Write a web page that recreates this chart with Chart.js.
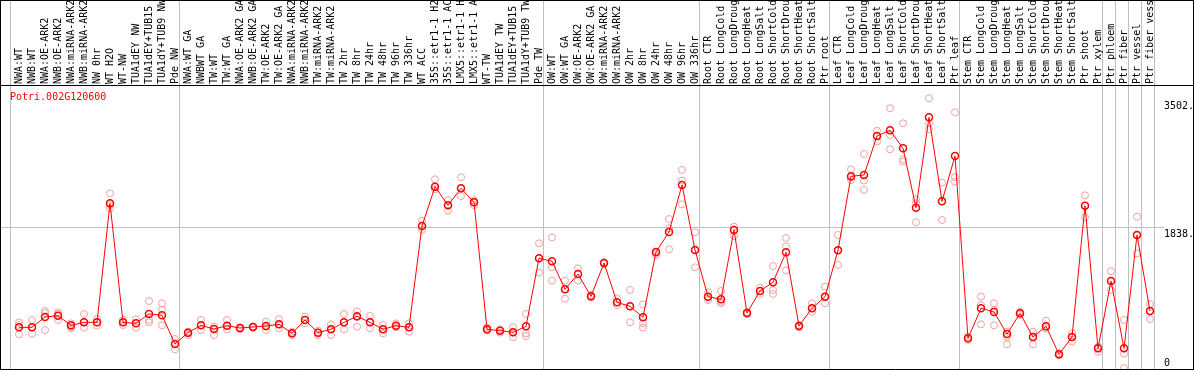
<!DOCTYPE html>
<html>
<head>
<meta charset="utf-8">
<script src="https://cdn.jsdelivr.net/npm/chart.js@4/dist/chart.umd.min.js"></script>
<style>
    html, body { margin: 0; padding: 0; background: #fff; }
    #wrap { width: 1194px; height: 370px; }
</style>
</head>
<body>
<div id="wrap"><canvas id="chart" width="1194" height="370"></canvas></div>
<script>
const geneName = 'Potri.002G120600';

const samples = [
    'NWA:WT', 'NWB:WT', 'NWA:OE-ARK2', 'NWB:OE-ARK2', 'NWA:miRNA-ARK2', 'NWB:miRNA-ARK2',
    'NW 0hr', 'WT H2O', 'WT-NW', 'TUA1dEY NW', 'TUA1dEY+TUB15', 'TUA1dY+TUB9 NW', 'Pde NW',
    'NWA:WT GA', 'NWBWT GA', 'TW:WT', 'TW:WT GA', 'NWA:OE-ARK2 GA', 'NWB:OE-ARK2 GA',
    'TW:OE-ARK2', 'TW:OE-ARK2 GA', 'NWA:miRNA-ARK2', 'NWB:miRNA-ARK2', 'TW:miRNA-ARK2',
    'TW:miRNA-ARK2', 'TW 2hr', 'TW 8hr', 'TW 24hr', 'TW 48hr', 'TW 96hr', 'TW 336hr',
    'WT ACC', '35S::etr1-1 H2O', '35S::etr1-1 ACC', 'LMX5::etr1-1 H2O', 'LMX5::etr1-1 ACC',
    'WT-TW', 'TUA1dEY TW', 'TUA1dEY+TUB15', 'TUA1dY+TUB9 TW', 'Pde TW',
    'OW:WT', 'OW:WT GA', 'OW:OE-ARK2', 'OW:OE-ARK2 GA', 'OW:miRNA-ARK2', 'OW:miRNA-ARK2',
    'OW 2hr', 'OW 8hr', 'OW 24hr', 'OW 48hr', 'OW 96hr', 'OW 336hr',
    'Root CTR', 'Root LongCold', 'Root LongDrought', 'Root LongHeat', 'Root LongSalt',
    'Root ShortCold', 'Root ShortDrought', 'Root ShortHeat', 'Root ShortSalt', 'Ptr root',
    'Leaf CTR', 'Leaf LongCold', 'Leaf LongDrought', 'Leaf LongHeat', 'Leaf LongSalt',
    'Leaf ShortCold', 'Leaf ShortDrought', 'Leaf ShortHeat', 'Leaf ShortSalt', 'Ptr leaf',
    'Stem CTR', 'Stem LongCold', 'Stem LongDrought', 'Stem LongHeat', 'Stem LongSalt',
    'Stem ShortCold', 'Stem ShortDrought', 'Stem ShortHeat', 'Stem ShortSalt',
    'Ptr shoot', 'Ptr xylem', 'Ptr phloem', 'Ptr fiber', 'Ptr vessel', 'Ptr fiber vessel'
];

const meanValues = [
    543, 543, 678, 695, 569, 608, 608, 2160, 608, 595,
    717, 700, 326, 474, 569, 521, 565, 534, 548, 561,
    582, 465, 639, 474, 517, 608, 687, 608, 517, 565,
    543, 1864, 2377, 2134, 2355, 2173, 517, 500, 478, 556,
    1443, 1404, 1039, 1238, 947, 1382, 869, 817, 674, 1525,
    1786, 2399, 1551, 943, 908, 1812, 730, 1017, 1130, 1521,
    561, 791, 943, 1547, 2512, 2529, 3037, 3111, 2877, 2103,
    3281, 2186, 2777, 400, 791, 743, 456, 726, 417, 556,
    191, 417, 2129, 269, 1147, 269, 1747, 756
];

const rep1 = [
    608, 639, 756, 738, 595, 717, 652, 2290, 639, 647,
    886, 856, 391, 487, 639, 552, 639, 543, 552, 617,
    647, 487, 682, 500, 582, 717, 752, 691, 573, 595,
    595, 1929, 2473, 2199, 2499, 2199, 543, 517, 543, 717,
    1638, 1716, 1152, 1312, 965, 1391, 921, 1030, 843, 1525,
    1955, 2595, 1781, 999, 1017, 1855, 743, 1060, 1343, 1708,
    573, 856, 1073, 1747, 2603, 2803, 3107, 3398, 3203, 2212,
    3529, 2429, 3346, 421, 943, 856, 487, 747, 487, 630,
    204, 465, 2264, 291, 1273, 639, 1986, 847
];

const rep2 = [
    573, 543, 730, 717, 552, 608, 608, 2137, 608, 595,
    639, 769, 326, 465, 569, 521, 565, 534, 548, 552,
    582, 465, 639, 474, 517, 608, 678, 608, 517, 565,
    543, 1864, 2377, 2134, 2355, 2173, 517, 500, 478, 465,
    1443, 1325, 1039, 1238, 947, 1382, 869, 817, 595, 1508,
    1834, 2456, 1551, 943, 878, 1812, 730, 1017, 1030, 1595,
    561, 791, 943, 1547, 2499, 2456, 3037, 3050, 2733, 2160,
    3203, 2186, 2499, 400, 834, 769, 421, 726, 417, 556,
    191, 417, 2129, 269, 1147, 200, 1747, 756
];

const rep3 = [
    452, 460, 508, 639, 530, 539, 565, 2094, 573, 539,
    608, 569, 256, 443, 508, 443, 517, 517, 539, 508,
    530, 443, 595, 443, 443, 517, 552, 530, 465, 543,
    487, 1812, 2342, 2064, 2255, 2137, 500, 474, 413, 430,
    1256, 1152, 917, 1152, 934, 1369, 834, 608, 539, 1482,
    1560, 2147, 1325, 899, 856, 1734, 717, 978, 978, 1286,
    543, 747, 856, 1356, 2464, 2334, 2964, 2864, 2703, 1912,
    3124, 1942, 2443, 378, 582, 569, 322, 704, 322, 530,
    178, 356, 1977, 226, 1030, 13, 1508, 652
];

// group separators come right after these sample indices
const groupEnds = [-1, 12, 40, 52, 62, 72, 83, 84, 85, 86, 87];
const yTickValues = [0, 1838, 3502];

const SEP_SHIFT = 0.38;
const X_STEP = 13;
const LABEL_SHIFT = 12 / X_STEP;   // rotated top labels are drawn one line height left of their tick
const PLOT_RIGHT = 1164;
const xMin = -19 / X_STEP;
const xMax = xMin + PLOT_RIGHT / X_STEP;
const monoFont = { family: 'DejaVu Sans Mono', size: 10 };

const meanPoints = meanValues.map((v, i) => ({ x: i, y: v }));
const repPoints = [];
[rep1, rep2, rep3].forEach(rep => {
    rep.forEach((v, i) => repPoints.push({ x: i, y: v }));
});

const isSeparator = (v) => groupEnds.some(g => Math.abs(g + SEP_SHIFT - v) < 1e-6);

const framePlugin = {
    id: 'frame',
    afterDraw(chart) {
        const ctx = chart.ctx;
        const w = chart.width;
        ctx.save();
        ctx.strokeStyle = '#000';
        ctx.lineWidth = 1;
        ctx.beginPath();
        ctx.moveTo(0, 0.5); ctx.lineTo(w, 0.5);
        ctx.moveTo(0, 85.5); ctx.lineTo(w, 85.5);
        ctx.moveTo(0, 369.5); ctx.lineTo(w, 369.5);
        ctx.moveTo(0.5, 0); ctx.lineTo(0.5, 370);
        ctx.moveTo(w - 0.5, 0); ctx.lineTo(w - 0.5, 370);
        ctx.stroke();

        ctx.fillStyle = '#ff0000';
        ctx.font = '10px "DejaVu Sans Mono"';
        ctx.textBaseline = 'middle';
        ctx.fillText(geneName, 10, 97);
        ctx.restore();
    }
};

new Chart(document.getElementById('chart'), {
    type: 'line',
    data: {
        datasets: [
            {
                label: 'mean',
                data: meanPoints,
                borderColor: '#ff0000',
                borderWidth: 1,
                pointRadius: 3.5,
                pointBorderWidth: 1.5,
                pointBorderColor: '#ff0000',
                pointBackgroundColor: 'rgba(0,0,0,0)',
                tension: 0,
                clip: false,
                order: 0,
                xAxisID: 'x',
                yAxisID: 'y',
            },
            {
                label: 'replicates',
                data: repPoints,
                showLine: false,
                pointRadius: 3.5,
                pointBorderWidth: 1,
                pointBorderColor: '#f0a0a0',
                pointBackgroundColor: 'rgba(0,0,0,0)',
                clip: false,
                order: 1,
                xAxisID: 'x',
                yAxisID: 'y',
            }
        ]
    },
    options: {
        responsive: false,
        animation: false,
        devicePixelRatio: 1,
        layout: { padding: { left: 0, right: 0, top: 0, bottom: 1 }, autoPadding: false },
        plugins: {
            legend: { display: false },
            tooltip: { enabled: false },
        },
        scales: {
            x: {
                type: 'linear',
                display: false,
                min: xMin,
                max: xMax,
            },
            xl: {
                type: 'linear',
                position: 'top',
                min: xMin,
                max: xMax,
                afterBuildTicks: (axis) => {
                    const ticks = samples.map((s, i) => ({ value: i + LABEL_SHIFT }));
                    groupEnds.forEach(g => ticks.push({ value: g + SEP_SHIFT }));
                    ticks.sort((a, b) => a.value - b.value);
                    axis.ticks = ticks;
                },
                afterFit: (axis) => {
                    axis.height = 86;
                    axis.paddingLeft = 0;
                    axis.paddingRight = 0;
                },
                ticks: {
                    autoSkip: false,
                    minRotation: 90,
                    maxRotation: 90,
                    padding: -84,
                    color: '#000',
                    font: monoFont,
                    callback: (value) => isSeparator(value) ? '' : samples[Math.round(value - LABEL_SHIFT)],
                },
                grid: {
                    drawOnChartArea: true,
                    drawTicks: true,
                    tickLength: 86,
                    lineWidth: 1,
                    color: (ctx) => (ctx.tick && isSeparator(ctx.tick.value)) ? '#c0c0c0' : 'rgba(0,0,0,0)',
                },
                border: { display: false },
            },
            y: {
                type: 'linear',
                position: 'right',
                min: 0,
                max: 3689,
                afterBuildTicks: (axis) => {
                    axis.ticks = yTickValues.map(v => ({ value: v }));
                },
                afterFit: (axis) => {
                    axis.width = 30;
                    axis.paddingTop = 0;
                    axis.paddingBottom = 0;
                },
                ticks: {
                    padding: 0,
                    color: '#000',
                    font: monoFont,
                    callback: (value) => value === 0 ? ['0', ''] : ['', value + '.'],
                },
                grid: {
                    drawTicks: false,
                    color: (ctx) => (ctx.tick && ctx.tick.value === 1838) ? '#c0c0c0' : 'rgba(0,0,0,0)',
                },
                border: { display: false },
            }
        }
    },
    plugins: [framePlugin],
});
</script>
</body>
</html>
